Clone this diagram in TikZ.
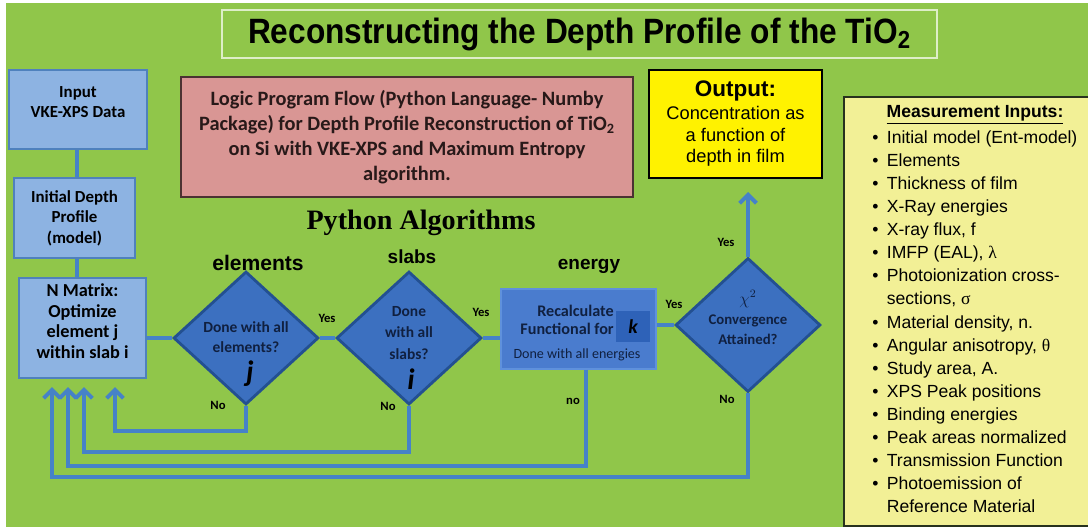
\documentclass[tikz,border=0pt]{standalone}
\usepackage{fontspec}
\setmainfont{Carlito}
\newfontfamily\arialfont{Liberation Sans}
\newfontfamily\timesfont{Liberation Serif}
\newfontfamily\titlefont[FakeStretch=0.9]{Liberation Sans}
\usetikzlibrary{shapes.geometric,arrows.meta}
\newcommand{\pxu}{0.025cm}
\newcommand{\bul}{\textbullet\hspace{6pt}}
\definecolor{bggreen}{RGB}{144,198,74}
\definecolor{titleedge}{RGB}{222,238,200}
\definecolor{boxblue}{RGB}{141,179,226}
\definecolor{boxedge}{RGB}{79,129,189}
\definecolor{dmdblue}{RGB}{60,112,192}
\definecolor{dmdedge}{RGB}{35,80,145}
\definecolor{enblue}{RGB}{74,124,206}
\definecolor{enedge}{RGB}{95,145,220}
\definecolor{kblue}{RGB}{46,98,184}
\definecolor{lineblue}{RGB}{70,130,200}
\definecolor{pinkbox}{RGB}{217,150,148}
\definecolor{pinkedge}{RGB}{75,50,50}
\definecolor{inyellow}{RGB}{242,240,150}
\definecolor{navytext}{RGB}{16,32,64}

\begin{document}
\begin{tikzpicture}[
    x=\pxu, y=-\pxu,
    every node/.style={inner sep=0pt},
    bluebox/.style={draw=boxedge, line width=1.5pt, fill=boxblue, align=center,
                    font=\bfseries\fontsize{12}{14.5}\selectfont},
    boxtext/.style={align=center, font=\bfseries\fontsize{12}{14.5}\selectfont},
    decision/.style={diamond, draw=dmdedge, line width=2pt, fill=dmdblue,
                     minimum width=145*\pxu, minimum height=133*\pxu},
    dtext/.style={align=center, text=navytext, font=\bfseries\fontsize{11}{14.5}\selectfont},
    bigletter/.style={text=black, font=\bfseries\itshape\fontsize{21}{21}\selectfont},
    loopname/.style={font=\arialfont\bfseries\fontsize{13.5}{16}\selectfont},
    yesno/.style={font=\bfseries\fontsize{9}{10}\selectfont},
    flow/.style={draw=lineblue, line width=2.8pt},
    flowback/.style={flow, -{Straight Barb[length=6pt,width=12pt]}}]

\fill[white] (0,0) rectangle (1088,527);
\fill[bggreen] (6,3) rectangle (1088,527);
\useasboundingbox (0,0) rectangle (1088,527);

\node[draw=titleedge, line width=1pt, minimum width=715*\pxu, minimum height=48*\pxu,
      font=\titlefont\bfseries\fontsize{25}{28}\selectfont]
    (title) at (579.5,34) {Reconstructing the Depth Profile of the TiO\textsubscript{2}};

\node[bluebox, minimum width=138*\pxu, minimum height=79*\pxu] (input) at (78,109.5) {};
\node[boxtext] (inputtxt) at (78,102) {Input\\VKE-XPS Data};
\node[bluebox, minimum width=121*\pxu, minimum height=80*\pxu] (init) at (74.5,218) {Initial Depth\\Profile\\(model)};
\node[bluebox, minimum width=127*\pxu, minimum height=100*\pxu] (nmat) at (82.5,328) {};
\node[boxtext, font=\bfseries\fontsize{13}{14.6}\selectfont] (nmattxt) at (82.5,321) {N Matrix:\\Optimize\\element j\\within slab i};

\node[draw=pinkedge, line width=1.2pt, fill=pinkbox, minimum width=452*\pxu, minimum height=120*\pxu,
      align=center, text={rgb,255:red,40;green,25;blue,25}, font=\bfseries\fontsize{14.5}{17.8}\selectfont]
    (logic) at (407,137) {Logic Program Flow (Python Language- Numby\\Package) for Depth Profile Reconstruction of TiO\textsubscript{2}\\on Si with VKE-XPS and Maximum Entropy\\algorithm.};
\node[font=\timesfont\bfseries\fontsize{20}{22}\selectfont] (pyalg) at (421,223) {Python Algorithms};

\node[draw=black, line width=1.2pt, fill=yellow, minimum width=173*\pxu, minimum height=108*\pxu,
      align=center, font=\arialfont\fontsize{13}{15.3}\selectfont]
    (out) at (735.5,124) {{\bfseries\fontsize{16}{18}\selectfont Output:}\\[1pt]Concentration as\\a function of\\depth in film};

\node[draw={rgb,255:red,40;green,50;blue,30}, line width=1.5pt, fill=inyellow,
      minimum width=248*\pxu, minimum height=429*\pxu] (inputs) at (968,311.5) {};
\node[font=\arialfont\bfseries\fontsize{12.5}{15}\selectfont] (inputshead) at (975,115) {\underline{Measurement Inputs:}};
\node[anchor=north west, align=left, font=\arialfont\fontsize{12.5}{16.4}\selectfont] (inputslist) at (872,130.5) {%
\bul Initial model (Ent-model)\\
\bul Elements\\
\bul Thickness of film\\
\bul X-Ray energies\\
\bul X-ray flux, f\\
\bul IMFP (EAL), {\timesfont λ}\\
\bul Photoionization cross-\\
\hphantom{\bul}sections, {\timesfont σ}\\
\bul Material density, n.\\
\bul Angular anisotropy, {\timesfont θ}\\
\bul Study area, A.\\
\bul XPS Peak positions\\
\bul Binding energies\\
\bul Peak areas normalized\\
\bul Transmission Function\\
\bul Photoemission of\\
\hphantom{\bul}Reference Material};

\node[decision] (elem) at (246,338) {};
\node[dtext] (elemq) at (246,337) {Done with all\\elements?};
\node[bigletter] (elemj) at (250,374) {j};
\node[loopname, font=\arialfont\bfseries\fontsize{15}{18}\selectfont] (elemname) at (258,263) {elements};

\node[decision] (slab) at (409,338) {};
\node[dtext, font=\bfseries\fontsize{11}{15}\selectfont] (slabq) at (409,333) {Done\\with all\\slabs?};
\node[bigletter] (slabi) at (411,379) {i};
\node[loopname] (slabname) at (412,257) {slabs};

\node[draw=enedge, line width=1.2pt, fill=enblue, minimum width=155*\pxu, minimum height=80*\pxu] (energy) at (578.5,329) {};
\node[fill=kblue, minimum width=34*\pxu, minimum height=31*\pxu] (ksq) at (633,326.5) {};
\node[text=black, font=\bfseries\itshape\fontsize{14}{14}\selectfont] (ktxt) at (633,327) {k};
\node[anchor=east, align=right, text=navytext, font=\bfseries\fontsize{11.5}{13}\selectfont] (recalc) at (614,320) {Recalculate\\Functional for};
\node[text=navytext, font=\fontsize{10}{12}\selectfont] (endone) at (577,355) {Done with all energies};
\node[loopname] (enname) at (589,266) {energy};

\node[decision, minimum height=134*\pxu] (chi) at (748,325) {};
\node[text=navytext, font=\fontsize{12}{12}\selectfont] (chisym) at (748,299) {$\chi^2$};
\node[dtext, font=\bfseries\fontsize{10.5}{14}\selectfont] (chiq) at (748,330) {Convergence\\Attained?};

\node[yesno] (yes1) at (327,318) {Yes};
\node[yesno] (yes2) at (481,312) {Yes};
\node[yesno] (yes3) at (674,304) {Yes};
\node[yesno] (yes4) at (726,242) {Yes};
\node[yesno] (no1) at (218,405) {No};
\node[yesno] (no2) at (388,406) {No};
\node[yesno] (no3) at (573,401) {no};
\node[yesno] (no4) at (727,399) {No};

\coordinate (outtip) at (748,192);
\coordinate (back1) at (115,387);
\coordinate (back2) at (84,387);
\coordinate (back3) at (68,387);
\coordinate (back4) at (52,387);
\coordinate (turn1) at (115,431);
\coordinate (turn2) at (84,452);
\coordinate (turn3) at (68,466);
\coordinate (turn4) at (52,477);

\draw[flow] ([xshift=2.5*\pxu]init.north |- input.south) -- ([xshift=2.5*\pxu]init.north);
\draw[flow] ([xshift=2.5*\pxu]init.south) -- ([xshift=2.5*\pxu]init.south |- nmat.north);
\draw[flow] (elem.west -| nmat.east) -- (elem.west);
\draw[flow] (elem.east) -- (slab.west);
\draw[flow] (slab.east) -- (slab.east -| energy.west);
\draw[flow] (chi.west -| energy.east) -- (chi.west);
\draw[flowback] (chi.north) -- (outtip);

\draw[flowback] (elem.south) |- (turn1) -- (back1);
\draw[flowback] (slab.south) |- (turn2) -- (back2);
\draw[flowback] ([xshift=7.5*\pxu]energy.south) |- (turn3) -- (back3);
\draw[flowback] (chi.south) |- (turn4) -- (back4);

\end{tikzpicture}
\end{document}
